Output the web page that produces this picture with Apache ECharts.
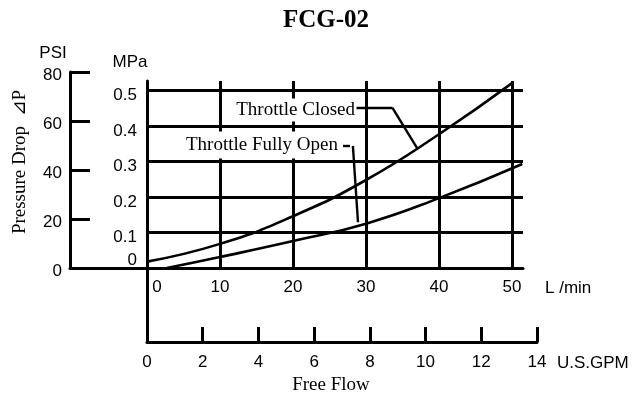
<!DOCTYPE html>
<html>
<head>
<meta charset="utf-8">
<script src="https://cdn.jsdelivr.net/npm/echarts@6/dist/echarts.min.js"></script>
<style>
html,body{margin:0;padding:0;background:#fff;}
#chart{width:636px;height:395px;}
</style>
</head>
<body>
<div id="chart"></div>
<script>
// ---- data ----
const flowClosed = [0, 10, 20, 30, 40, 50];                 // L/min
const dpClosed   = [0.018, 0.068, 0.146, 0.248, 0.377, 0.521]; // MPa
const flowOpen   = [2.7, 10, 20, 30, 40, 51.4];             // L/min
const dpOpen     = [0, 0.031, 0.076, 0.125, 0.197, 0.293];  // MPa

const lpmTicks = [0, 10, 20, 30, 40, 50];
const gpmTicks = [0, 2, 4, 6, 8, 10, 12, 14];
const psiTicks = [0, 20, 40, 60, 80];
const mpaTicks = [0, 0.1, 0.2, 0.3, 0.4, 0.5];

// annotation leader lines, in data units [L/min, MPa]
const leaderClosed = [[28.7, 0.452], [33.6, 0.452], [37.0, 0.338]];
const leaderOpen   = [[26.85, 0.344], [27.8, 0.344], [28.2, 0.344], [28.9, 0.129]];

// ---- chart ----
const BLACK = '#000';
const SANS = '"Liberation Sans", Arial, sans-serif';
const SERIF = '"Liberation Serif", "Times New Roman", serif';
const W = 3;

function zip(a, b) { return a.map((v, i) => [v, b[i]]); }
function seg(p, q) { return [{coord: p}, {coord: q}]; }

const chart = echarts.init(document.getElementById('chart'), null, {renderer: 'canvas'});

const hidden = {show: false};
const axisLine = {show: true, lineStyle: {color: BLACK, width: W}};

function txt(t, x, y, font, align) {
  return {
    type: 'text', x: x, y: y, z: 100, silent: true,
    style: {text: t, x: 0, y: 0, font: font, fill: BLACK,
            align: align, verticalAlign: 'middle', textAlign: align, textVerticalAlign: 'middle'}
  };
}
function txtBox(t, x, y, pad) {
  const o = txt(t, x, y, '19px ' + SERIF, 'right');
  o.style.backgroundColor = '#fff';
  o.style.padding = pad;
  return o;
}

const option = {
  backgroundColor: '#fff',
  animation: false,
  grid: [
    {left: 147, top: 81, width: 376, height: 187},
    {left: 70, top: 72, width: 77, height: 196},
    {left: 147, top: 268, width: 390, height: 74}
  ],
  xAxis: [
    {
      gridIndex: 0, type: 'value', min: lpmTicks[0], max: 51.5,
      interval: lpmTicks[1] - lpmTicks[0],
      axisLine: axisLine, axisTick: hidden,
      splitLine: {show: true, showMinLine: true, showMaxLine: false, lineStyle: {color: BLACK, width: W}},
      axisLabel: {
        margin: 11, color: BLACK, fontFamily: SANS, fontSize: 17, showMaxLabel: false,
        formatter: v => v === 0 ? '{z|0}' : '{a|' + v + '}',
        rich: {a: {fontFamily: SANS, fontSize: 17, color: BLACK},
               z: {fontFamily: SANS, fontSize: 17, color: BLACK, padding: [0, 0, 0, 20]}}
      }
    },
    {
      gridIndex: 1, type: 'value', min: 0, max: 1,
      axisLine: axisLine, axisTick: hidden, axisLabel: hidden, splitLine: hidden
    },
    {
      gridIndex: 2, type: 'value', min: gpmTicks[0], max: gpmTicks[gpmTicks.length - 1],
      interval: gpmTicks[1] - gpmTicks[0],
      axisLine: axisLine,
      axisTick: {show: true, inside: true, length: 15, lineStyle: {color: BLACK, width: W}},
      splitLine: hidden,
      axisLabel: {margin: 12, color: BLACK, fontFamily: SANS, fontSize: 17, showMaxLabel: true, showMinLabel: true}
    }
  ],
  yAxis: [
    {
      gridIndex: 0, type: 'value', min: mpaTicks[0], max: 0.527,
      interval: 0.1,
      axisLine: axisLine, axisTick: hidden,
      splitLine: {show: true, showMinLine: true, showMaxLine: false, lineStyle: {color: BLACK, width: W}},
      axisLabel: {
        margin: 10, color: BLACK, fontFamily: SANS, fontSize: 17, showMaxLabel: false,
        formatter: v => Math.abs(v) < 1e-9 ? '{z|0}' : '{a|' + v.toFixed(1) + '}',
        rich: {a: {fontFamily: SANS, fontSize: 17, color: BLACK, padding: [10, 0, 0, 0]},
               z: {fontFamily: SANS, fontSize: 17, color: BLACK, padding: [0, 0, 16, 0]}}
      }
    },
    {
      gridIndex: 1, type: 'value', min: psiTicks[0], max: psiTicks[psiTicks.length - 1],
      interval: psiTicks[1] - psiTicks[0],
      axisLine: axisLine,
      axisTick: {show: true, inside: true, length: 20, lineStyle: {color: BLACK, width: W}},
      splitLine: hidden,
      axisLabel: {
        margin: 8, color: BLACK, fontFamily: SANS, fontSize: 17,
        formatter: v => '{a|' + v + '}',
        rich: {a: {fontFamily: SANS, fontSize: 17, color: BLACK, padding: [6, 0, 0, 0]}}
      }
    },
    {
      gridIndex: 2, type: 'value', min: 0, max: 1,
      axisLine: axisLine, axisTick: hidden, axisLabel: hidden, splitLine: hidden
    }
  ],
  series: [
    {
      name: 'Throttle Closed', type: 'line', xAxisIndex: 0, yAxisIndex: 0,
      data: zip(flowClosed, dpClosed), smooth: 0.5,
      symbol: 'none', lineStyle: {color: BLACK, width: 2.6}, z: 5,
      markLine: {
        silent: true, symbol: ['none', 'none'], label: {show: false},
        lineStyle: {color: BLACK, width: 2.4, type: 'solid'},
        data: [seg(leaderClosed[0], leaderClosed[1]), seg(leaderClosed[1], leaderClosed[2])]
      }
    },
    {
      name: 'Throttle Fully Open', type: 'line', xAxisIndex: 0, yAxisIndex: 0,
      data: zip(flowOpen, dpOpen), smooth: 0.5,
      symbol: 'none', lineStyle: {color: BLACK, width: 2.6}, z: 5,
      markLine: {
        silent: true, symbol: ['none', 'none'], label: {show: false},
        lineStyle: {color: BLACK, width: 2.4, type: 'solid'},
        data: [seg(leaderOpen[0], leaderOpen[1]), seg(leaderOpen[2], leaderOpen[3])]
      }
    }
  ],
  graphic: [
    txt('FCG-02', 326, 21, 'bold 25px ' + SERIF, 'center'),
    txt('PSI', 53, 53, '17px ' + SANS, 'center'),
    txt('MPa', 130, 62, '17px ' + SANS, 'center'),
    txt('L /min', 545, 288, '17px ' + SANS, 'left'),
    txt('U.S.GPM', 557, 363, '17px ' + SANS, 'left'),
    txt('Free Flow', 331, 385, '19px ' + SERIF, 'center'),
    Object.assign(txt('Pressure Drop  \u22BFP', 20, 162, '19px ' + SERIF, 'center'), {rotation: Math.PI / 2}),
    txtBox('Throttle Closed', 356, 110, [2, 1, 2, 3]),
    txtBox('Throttle Fully Open', 340, 145, [4, 2, 4, 3])
  ]
};

chart.setOption(option);
</script>
</body>
</html>
